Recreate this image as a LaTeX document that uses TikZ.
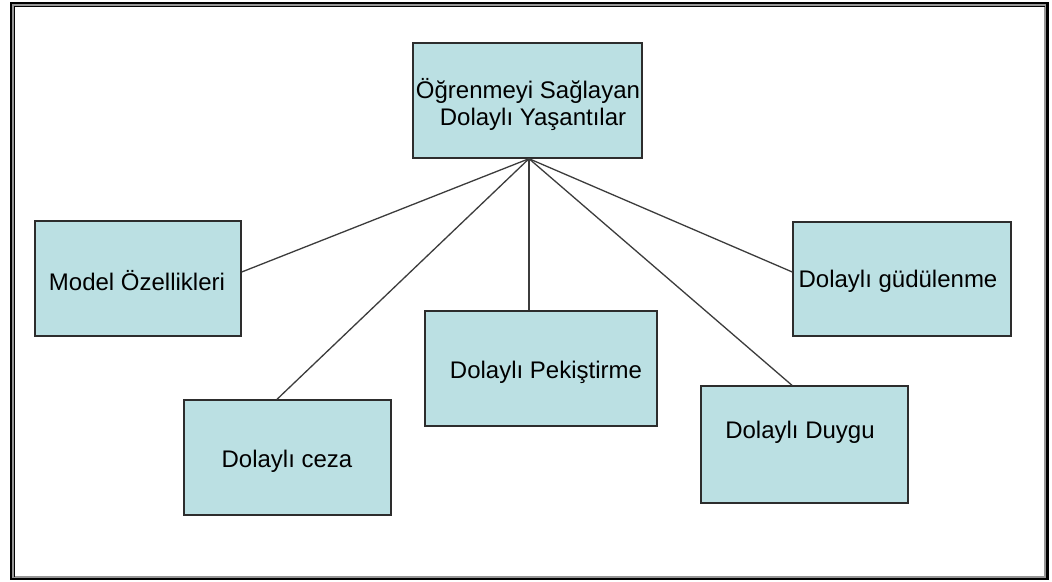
\documentclass[tikz,border=0pt]{standalone}
\usepackage{fontspec}
\setmainfont{Liberation Sans}
\usetikzlibrary{calc}
\definecolor{boxfill}{RGB}{187,224,227}
\definecolor{boxline}{RGB}{45,45,45}
\definecolor{linkc}{RGB}{60,60,60}
\definecolor{framegray}{RGB}{150,150,150}
\tikzset{
  box/.style={draw=boxline, line width=1.4pt, fill=boxfill, inner sep=0pt},
  lbl/.style={inner sep=0pt, anchor=base, font=\fontsize{24}{27}\selectfont},
  link/.style={draw=linkc, line width=1.3pt}
}
\begin{document}
\begin{tikzpicture}[x=1pt,y=-1pt]
\useasboundingbox (0,0) rectangle (1052,581);
\fill[white] (0,0) rectangle (1052,581);
% frame
\draw[black, line width=2.5pt] (11,3) rectangle (1047.5,579);
\draw[framegray, line width=1.6pt] (13.2,5.2) rectangle (1045,577);
\draw[black, line width=0.9pt] (14.6,577) -- (14.6,6.6) -- (1045,6.6);
% boxes
\node[box, minimum width=229pt, minimum height=115pt] (top) at (527.5,100.5) {};
\node[box, minimum width=206pt, minimum height=115pt] (model) at (138,278.5) {};
\node[box, minimum width=218pt, minimum height=114pt] (gud) at (902,279) {};
\node[box, minimum width=207pt, minimum height=115pt] (ceza) at (287.5,457.5) {};
\node[box, minimum width=232pt, minimum height=115pt] (pek) at (541,368.5) {};
\node[box, minimum width=207pt, minimum height=117pt] (duygu) at (804.5,444.5) {};
% labels
\node[lbl] (topt1) at (528,98) {Öğrenmeyi Sağlayan};
\node[lbl] (topt2) at (533,125) {Dolaylı Yaşantılar};
\node[lbl] (modelt) at (137,290) {Model Özellikleri};
\node[lbl] (gudt) at (898,287) {Dolaylı güdülenme};
\node[lbl] (cezat) at (287,467) {Dolaylı ceza};
\node[lbl] (pekt) at (546,378) {Dolaylı Pekiştirme};
\node[lbl] (duygut) at (800,438) {Dolaylı Duygu};
% connectors
\coordinate (apex) at ($(top.south)+(1.5,0)$);
\draw[link] (apex) -- ($(model.east)+(0,-6.5)$);
\draw[link] (apex) -- ($(gud.west)+(0,-7)$);
\draw[link] (apex) -- ($(ceza.north)+(-10.5,0)$);
\draw[link] (apex) -- ($(pek.north)+(-12,0)$);
\draw[link] (apex) -- ($(duygu.north)+(-12.5,0)$);
\end{tikzpicture}
\end{document}
